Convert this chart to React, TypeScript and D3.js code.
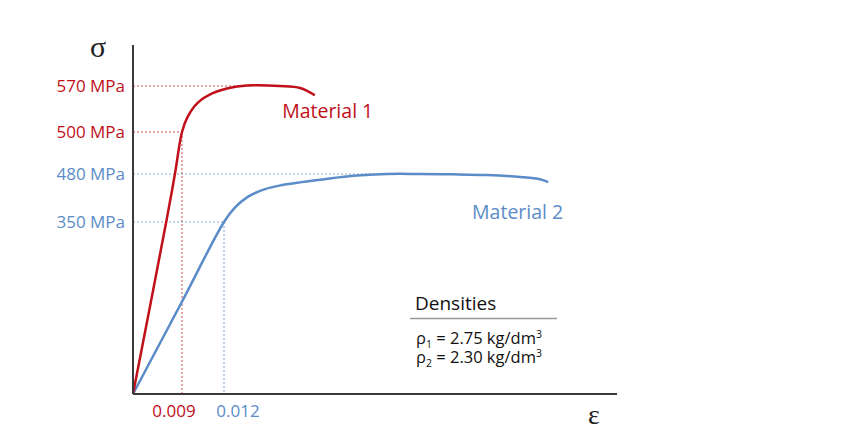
import * as d3 from "d3";
import React from "react";

// schematic stress-strain chart: the axes are not to scale, so polylinear scales
const strainTicks = [0.009, 0.012];
const stressTicks = [570, 500, 480, 350];
const tickMaterial = { 570: 1, 500: 1, 480: 2, 350: 2, 0.009: 1, 0.012: 2 };

const m1Strain = [0, 0.0061, 0.0077, 0.009, 0.0094, 0.0101, 0.0112, 0.0131, 0.0155, 0.0188, 0.0213, 0.0231];
const m1Stress = [0, 350, 480, 500, 523, 544, 559, 568, 571, 570, 567, 556];

const m2Strain = [0, 0.009, 0.012, 0.0133, 0.0149, 0.017, 0.0191, 0.0215, 0.0243, 0.0278, 0.0319, 0.0359, 0.04, 0.0441, 0.0482, 0.0506, 0.0516];
const m2Stress = [0, 188, 350, 388, 418, 439, 450, 458, 466, 475, 480, 480, 479, 477, 472, 466, 458];

// where each guide line stops on the curve
const guides = [
  { stress: 570, strain: 0.0155, mat: 1, vertical: false },
  { stress: 500, strain: 0.009, mat: 1, vertical: true },
  { stress: 480, strain: 0.0319, mat: 2, vertical: false },
  { stress: 350, strain: 0.012, mat: 2, vertical: true },
];

const densities = [
  { sub: "1", value: "2.75" },
  { sub: "2", value: "2.30" },
];

const RED = "#c0101a";
const BLUE = "#5b8cc8";
const colorOf = (m) => (m === 1 ? RED : BLUE);

const x = d3
  .scaleLinear()
  .domain([0, 0.009, 0.012, 0.06])
  .range([133, 182, 224, 617]);
const y = d3
  .scaleLinear()
  .domain([0, 350, 480, 500, 570, 632])
  .range([394, 222, 174, 132, 86, 45]);

const line = d3
  .line<[number, number]>()
  .x((d) => x(d[0]))
  .y((d) => y(d[1]))
  .curve(d3.curveCatmullRom.alpha(0.5));

const m1 = m1Strain.map((e, i) => [e, m1Stress[i]] as [number, number]);
const m2 = m2Strain.map((e, i) => [e, m2Stress[i]] as [number, number]);

const sans = "'Open Sans', sans-serif";
const serif = "'Liberation Serif', 'DejaVu Serif', serif";

export default function App() {
  const labelDx = { 0.009: -8, 0.012: 14 };
  return (
    <svg
      width={841}
      height={437}
      style={{ position: "absolute", left: 0, top: 0, background: "#fff" }}
    >
      {/* guide lines */}
      {guides.map((g) => (
        <g key={g.stress} stroke={colorOf(g.mat)} strokeWidth={1} strokeDasharray="2,2" opacity={0.75}>
          <line x1={x(0)} x2={x(g.strain)} y1={y(g.stress)} y2={y(g.stress)} />
          {g.vertical && (
            <line x1={x(g.strain)} x2={x(g.strain)} y1={y(g.stress)} y2={y(0)} />
          )}
        </g>
      ))}

      {/* curves */}
      <path d={line(m2) ?? ""} fill="none" stroke={BLUE} strokeWidth={2.5} />
      <path d={line(m1) ?? ""} fill="none" stroke={RED} strokeWidth={2.5} />

      {/* axes */}
      <line x1={x(0)} x2={x(0)} y1={y(632)} y2={y(0)} stroke="#3a3a3a" strokeWidth={2} />
      <line x1={x(0)} x2={x(0.06)} y1={y(0)} y2={y(0)} stroke="#3a3a3a" strokeWidth={2} />

      {/* y ticks */}
      {stressTicks.map((t) => (
        <text
          key={t}
          x={x(0) - 8}
          y={y(t)}
          dy="0.35em"
          textAnchor="end"
          fontFamily={sans}
          fontSize={17}
          fill={colorOf(tickMaterial[t])}
        >
          {t} MPa
        </text>
      ))}

      {/* x ticks */}
      {strainTicks.map((t) => (
        <text
          key={t}
          x={x(t) + labelDx[t]}
          y={417}
          textAnchor="middle"
          fontFamily={sans}
          fontSize={17}
          fill={colorOf(tickMaterial[t])}
        >
          {t.toFixed(3)}
        </text>
      ))}

      {/* axis symbols */}
      <text x={98} y={57} fontFamily={serif} fontSize={30} textAnchor="middle" fill="#222">
        σ
      </text>
      <text x={594} y={424} fontFamily={serif} fontSize={28} textAnchor="middle" fill="#222">
        ε
      </text>

      {/* series labels */}
      <text x={x(0.0191)} y={y(521)} fontFamily={sans} fontSize={19.5} fill={RED}>
        Material 1
      </text>
      <text x={x(0.0423)} y={y(358)} fontFamily={sans} fontSize={19.5} fill={BLUE}>
        Material 2
      </text>

      {/* densities box */}
      <text x={415} y={310} fontFamily={sans} fontSize={19} fill="#111">
        Densities
      </text>
      <line x1={410} x2={557} y1={318.5} y2={318.5} stroke="#999" strokeWidth={1.5} />
      {densities.map((d, i) => (
        <text key={d.sub} x={416} y={344 + i * 19} fontFamily={sans} fontSize={16.5} fill="#111">
          ρ
          <tspan fontSize={10.5} dy={4}>{d.sub}</tspan>
          <tspan dy={-4}>{` = ${d.value} kg/dm`}</tspan>
          <tspan fontSize={10.5} dy={-6}>3</tspan>
        </text>
      ))}
    </svg>
  );
}
